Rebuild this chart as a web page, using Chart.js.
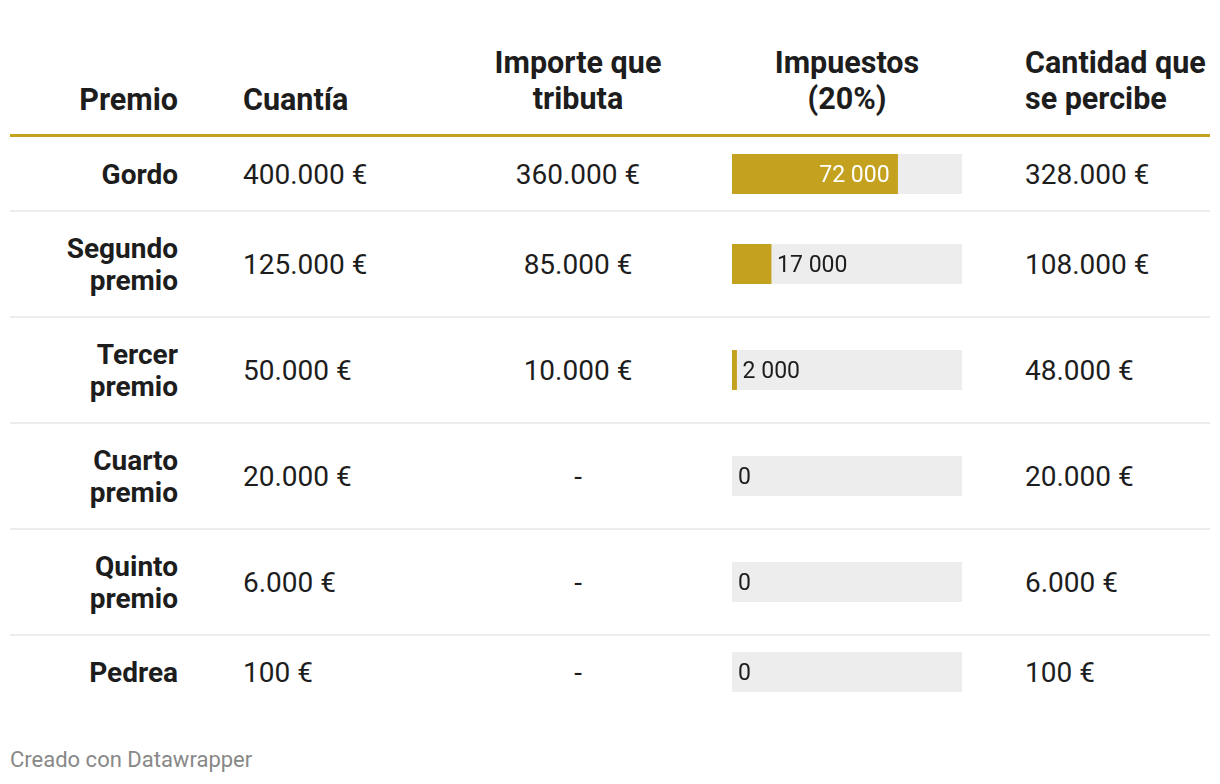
<!DOCTYPE html>
<html lang="es">
<head>
<meta charset="utf-8">
<title>Premios de la Lotería</title>
<script src="https://cdn.jsdelivr.net/npm/chart.js@4.4.1/dist/chart.umd.min.js"></script>
<style>
  html, body { margin: 0; padding: 0; background: #fff; }
  body { width: 1220px; height: 784px; overflow: hidden; font-family: Roboto, "Open Sans", sans-serif; color: #1d1d1d; }
  #wrap { position: relative; width: 1220px; height: 784px; }
  .cell { position: absolute; display: flex; align-items: center; }
  .hdr { font-weight: 700; font-size: 30.5px; line-height: 36px; }
  .body { font-size: 28px; line-height: 32px; padding-top: 2px; box-sizing: border-box; }
  .lbl { font-weight: 700; text-align: right; justify-content: flex-end; }
  .center { justify-content: center; text-align: center; }
  .line { position: absolute; left: 10px; width: 1200px; }
  #foot { position: absolute; left: 10px; top: 747px; font-size: 22px; color: #888; }
  canvas { position: absolute; }
</style>
</head>
<body>
<div id="wrap"></div>
<script>
// Datos de la tabla
const premios = ["Gordo", "Segundo premio", "Tercer premio", "Cuarto premio", "Quinto premio", "Pedrea"];
const cuantia = [400000, 125000, 50000, 20000, 6000, 100];
const importeTributa = [360000, 85000, 10000, null, null, null];
const impuestos = [72000, 17000, 2000, 0, 0, 0];
const cantidadPercibe = [328000, 108000, 48000, 20000, 6000, 100];
const cabeceras = ["Premio", "Cuantía", "Importe que<br>tributa", "Impuestos<br>(20%)", "Cantidad que<br>se percibe"];
const topeBarra = 100000;

const GOLD = "#c4a220";
const TRACK = "#ededed";

function euros(n) {
  if (n === null) return "-";
  return String(n).replace(/\B(?=(\d{3})+(?!\d))/g, ".") + " €";
}
function conEspacios(n) {
  return String(n).replace(/\B(?=(\d{3})+(?!\d))/g, " ");
}

const wrap = document.getElementById("wrap");

function addCell(text, cls, left, top, width, height) {
  const d = document.createElement("div");
  d.className = "cell " + cls;
  d.style.left = left + "px";
  d.style.top = top + "px";
  d.style.width = width + "px";
  d.style.height = height + "px";
  d.innerHTML = text;
  wrap.appendChild(d);
  return d;
}

// cabecera
const hTop = 44, hH = 74;
addCell(cabeceras[0], "hdr lbl", 10, hTop, 168, hH).style.alignItems = "flex-end";
addCell(cabeceras[1], "hdr", 243, hTop, 200, hH).style.alignItems = "flex-end";
addCell(cabeceras[2], "hdr center", 468, hTop, 220, hH);
addCell(cabeceras[3], "hdr center", 737, hTop, 220, hH);
addCell(cabeceras[4], "hdr", 1025, hTop, 195, hH);

let sep = document.createElement("div");
sep.className = "line";
sep.style.top = "134px";
sep.style.height = "3px";
sep.style.background = GOLD;
wrap.appendChild(sep);

// etiquetas de las barras
const etiquetas = {
  id: "etiquetas",
  afterDatasetsDraw(chart) {
    const ctx = chart.ctx;
    const bar = chart.getDatasetMeta(0).data[0];
    const val = chart.data.datasets[0].data[0];
    const txt = conEspacios(val);
    ctx.save();
    ctx.font = "23px Roboto";
    ctx.textBaseline = "middle";
    const w = ctx.measureText(txt).width;
    if (bar.x - chart.chartArea.left > w + 16) {
      ctx.fillStyle = "#fff";
      ctx.textAlign = "right";
      ctx.fillText(txt, bar.x - 8, bar.y + 2);
    } else {
      ctx.fillStyle = "#1d1d1d";
      ctx.textAlign = "left";
      ctx.fillText(txt, bar.x + 6, bar.y + 2);
    }
    ctx.restore();
  }
};

// filas
const rowH = [74, 106, 106, 106, 106, 74];
let y = 137;
for (let i = 0; i < premios.length; i++) {
  const h = rowH[i];
  addCell(premios[i], "body lbl", 30, y, 148, h);
  addCell(euros(cuantia[i]), "body", 243, y, 200, h);
  addCell(euros(importeTributa[i]), "body center", 468, y, 220, h);
  addCell(euros(cantidadPercibe[i]), "body", 1025, y, 195, h);

  const c = document.createElement("canvas");
  c.width = 230;
  c.height = 40;
  c.style.left = "732px";
  c.style.top = (y + Math.round(h / 2) - 20) + "px";
  wrap.appendChild(c);

  new Chart(c, {
    type: "bar",
    data: {
      labels: [premios[i]],
      datasets: [
        {
          data: [impuestos[i]],
          backgroundColor: (ctx) => (ctx.raw > 0 ? GOLD : "rgba(0,0,0,0)"),
          grouped: false, barPercentage: 1, categoryPercentage: 1
        },
        { data: [topeBarra], backgroundColor: TRACK, grouped: false, barPercentage: 1, categoryPercentage: 1 }
      ]
    },
    options: {
      indexAxis: "y",
      responsive: false,
      animation: false,
      events: [],
      layout: { padding: 0 },
      scales: {
        x: { display: false, min: 0, max: topeBarra },
        y: { display: false }
      },
      plugins: { legend: { display: false }, tooltip: { enabled: false } }
    },
    plugins: [etiquetas]
  });

  y += h;
  if (i < premios.length - 1) {
    const s = document.createElement("div");
    s.className = "line";
    s.style.top = (y - 1) + "px";
    s.style.height = "2px";
    s.style.background = "#ececec";
    wrap.appendChild(s);
  }
}

const foot = document.createElement("div");
foot.id = "foot";
foot.textContent = "Creado con Datawrapper";
wrap.appendChild(foot);
</script>
</body>
</html>
